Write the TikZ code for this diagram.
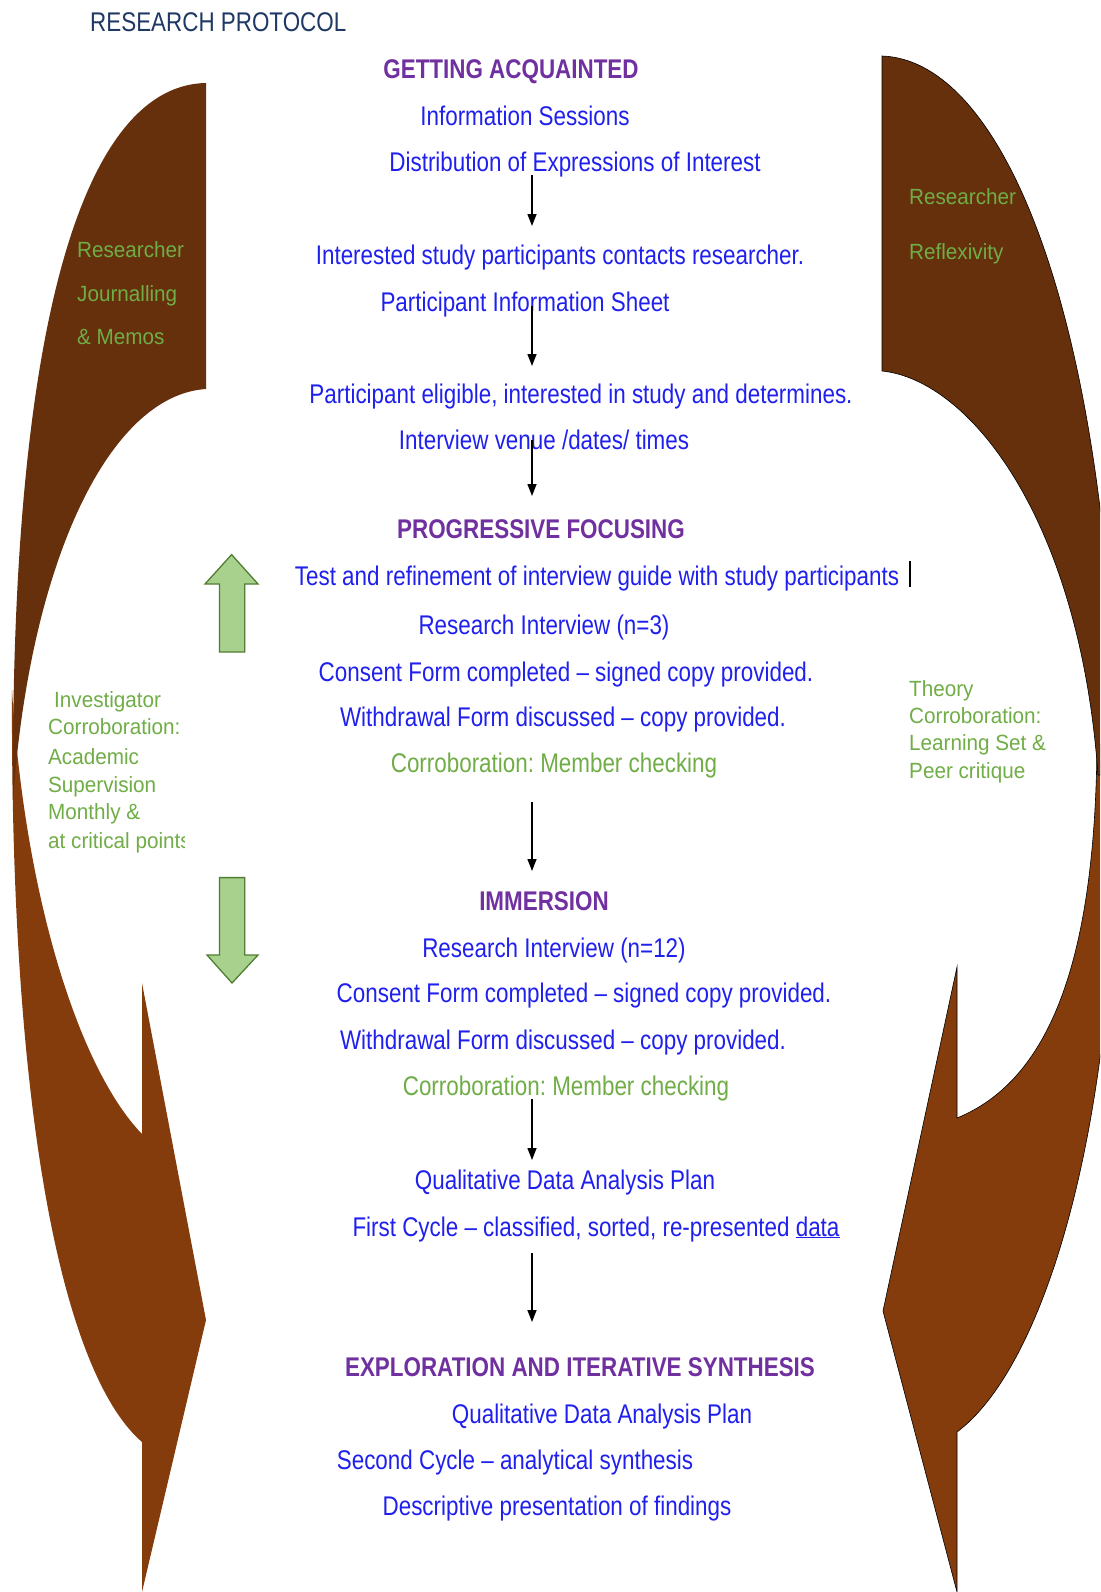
\documentclass[tikz,border=0pt]{standalone}
\usepackage{fontspec}
\setmainfont{Liberation Sans}[FakeStretch=0.83]
\newfontfamily\sidefont{Liberation Sans}[FakeStretch=0.94]
\usetikzlibrary{arrows.meta}
\frenchspacing
\definecolor{txtblue}{HTML}{2020EE}
\definecolor{hpurple}{HTML}{7030A0}
\definecolor{sgreen}{HTML}{70AD47}
\definecolor{navy}{HTML}{1F3864}
\definecolor{browndark}{HTML}{66300C}
\definecolor{brownlight}{HTML}{843C0C}
\definecolor{arrowfill}{HTML}{A9D18E}
\definecolor{arrowline}{HTML}{507E32}
\begin{document}
\begin{tikzpicture}[x=1pt,y=-1pt,
  maintext/.style={font=\fontsize{27}{32}\selectfont, text=txtblue, anchor=base, inner sep=0pt},
  headtext/.style={maintext, text=hpurple, font=\fontsize{27}{32}\selectfont\bfseries},
  corrtext/.style={maintext, text=sgreen},
  sidetext/.style={font=\sidefont\fontsize{22}{26}\selectfont, text=sgreen, anchor=base west, inner sep=0pt},
  flow/.style={-{Triangle[length=12pt,width=9pt]}, line width=1.4pt, black},
  bigarrow/.style={fill=arrowfill, draw=arrowline, line width=1.3pt, line join=miter},
  darkband/.style={fill=browndark},
  lightband/.style={fill=brownlight}
]
\useasboundingbox (0,0) rectangle (1100,1592);
\fill[white] (0,0) rectangle (1100,1592);

% ---------- brown curved bands ----------
\begin{scope}
\clip (0,0) rectangle (1100,1592);
% left lower (light)
\fill[lightband] (12,690) .. controls (10,1150) and (70,1380) .. (142,1442)
  -- (142,1592) -- (206,1320) -- (142,983) -- (142,1134)
  .. controls (80,1070) and (25,900) .. (12,690) -- cycle;
% left upper (dark)
\fill[darkband] (206,83) -- (206,389) .. controls (110,395) and (30,560) .. (13,800)
  .. controls (10,300) and (90,85) .. (206,83) -- cycle;
% right lower (light)
\filldraw[lightband, draw=black, line width=0.6pt] (957,1432) .. controls (1040,1370) and (1110,1150) .. (1115,850)
  -- (1115,740) -- (1097,745) .. controls (1095,960) and (1050,1080) .. (957,1118)
  -- (957,967) -- (883,1311) -- (957,1592) -- cycle;
% right upper (dark)
\filldraw[darkband, draw=black, line width=0.6pt] (882,56) -- (882,371)
  .. controls (970,380) and (1080,520) .. (1098,775) -- (1115,775) -- (1115,700)
  .. controls (1100,300) and (1000,60) .. (882,56) -- cycle;
\end{scope}

% ---------- green block arrows ----------
\draw[bigarrow] (231.6,554.6) -- (258,584) -- (244.8,584) -- (244.8,652) -- (219.4,652) -- (219.4,584) -- (205,584) -- cycle;
\draw[bigarrow] (219.4,877.6) -- (244.8,877.6) -- (244.8,955) -- (258,955) -- (232,983) -- (207,955) -- (219.4,955) -- cycle;

% ---------- title ----------
\node[anchor=base west, inner sep=0pt, font=\fontsize{27}{32}\selectfont, text=navy] (title) at (90,32) {RESEARCH PROTOCOL};

% ---------- central texts ----------
\node[headtext] (ga) at (511,79) {GETTING ACQUAINTED};
\node[maintext] (is) at (525,126) {Information Sessions};
\node[maintext] (doe) at (575,171.5) {Distribution of Expressions of Interest};
\node[maintext] (isp) at (560,264) {Interested study participants contacts researcher.};
\node[maintext] (pis) at (525,311) {Participant Information Sheet};
\node[maintext] (pe) at (581,403) {Participant eligible, interested in study and determines.};
\node[maintext] (iv) at (544,449) {Interview venue /dates/ times};
\node[headtext] (pf) at (541,538) {PROGRESSIVE FOCUSING};
\node[maintext] (test) at (597,585) {Test and refinement of interview guide with study participants};
\node[maintext] (ri3) at (544,634) {Research Interview (n=3)};
\node[maintext] (cf1) at (566,681) {Consent Form completed -- signed copy provided.};
\node[maintext] (wf1) at (563,726) {Withdrawal Form discussed -- copy provided.};
\node[corrtext] (corr1) at (554,772) {Corroboration: Member checking};
\node[headtext] (imm) at (544,910) {IMMERSION};
\node[maintext] (ri12) at (554,957) {Research Interview (n=12)};
\node[maintext] (cf2) at (584,1002) {Consent Form completed -- signed copy provided.};
\node[maintext] (wf2) at (563,1049) {Withdrawal Form discussed -- copy provided.};
\node[corrtext] (corr2) at (566,1095) {Corroboration: Member checking};
\node[maintext] (qdap1) at (565,1189) {Qualitative Data Analysis Plan};
\node[maintext] (fc) at (596,1236) {First Cycle -- classified, sorted, re-presented \underline{data}};
\node[headtext] (eis) at (580,1376) {EXPLORATION AND ITERATIVE SYNTHESIS};
\node[maintext] (qdap2) at (602,1423) {Qualitative Data Analysis Plan};
\node[maintext] (sc) at (515,1469) {Second Cycle -- analytical synthesis};
\node[maintext] (dp) at (557,1515) {Descriptive presentation of findings};

% text cursor bar
\coordinate (bart) at (910,561);
\coordinate (barb) at (910,587);
\draw[line width=1.8pt, black] (bart) -- (barb);

% ---------- flow arrows ----------
\coordinate (a1s) at (532,175);  \coordinate (a1e) at (532,226);
\coordinate (a2s) at (532,306);  \coordinate (a2e) at (532,366);
\coordinate (a3s) at (532,440);  \coordinate (a3e) at (532,496);
\coordinate (a4s) at (532,802);  \coordinate (a4e) at (532,871);
\coordinate (a5s) at (532,1099); \coordinate (a5e) at (532,1160);
\coordinate (a6s) at (532,1253); \coordinate (a6e) at (532,1322);
\draw[flow] (a1s) -- (a1e);
\draw[flow] (a2s) -- (a2e);
\draw[flow] (a3s) -- (a3e);
\draw[flow] (a4s) -- (a4e);
\draw[flow] (a5s) -- (a5e);
\draw[flow] (a6s) -- (a6e);

% ---------- side texts ----------
\node[sidetext] (lj1) at (77,257) {Researcher};
\node[sidetext] (lj2) at (77,301.5) {Journalling};
\node[sidetext] (lj3) at (77,344) {\& Memos};
\node[sidetext] (rr1) at (909,204) {Researcher};
\node[sidetext] (rr2) at (909,259) {Reflexivity};

\begin{scope}
\clip (40,680) rectangle (184,860);
\node[sidetext] (ic1) at (54,707) {Investigator};
\node[sidetext] (ic2) at (48,734) {Corroboration:};
\node[sidetext] (ic3) at (48,764) {Academic};
\node[sidetext] (ic4) at (48,792) {Supervision};
\node[sidetext] (ic5) at (48,819.5) {Monthly \&};
\node[sidetext] (ic6) at (48,848) {at critical points};
\end{scope}

\node[sidetext] (tc1) at (909,696) {Theory};
\node[sidetext] (tc2) at (909,723) {Corroboration:};
\node[sidetext] (tc3) at (909,750.5) {Learning Set \&};
\node[sidetext] (tc4) at (909,778) {Peer critique};
\end{tikzpicture}
\end{document}
